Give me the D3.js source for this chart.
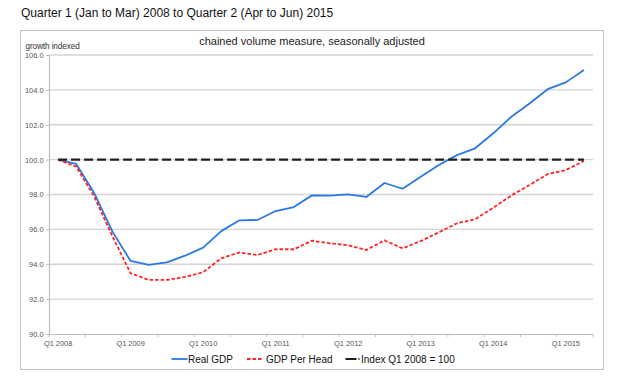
<!DOCTYPE html>
<html>
<head>
<meta charset="utf-8">
<script src="https://cdn.jsdelivr.net/npm/d3@7"></script>
<style>
  html, body { margin: 0; padding: 0; background: #fff; }
  svg { display: block; font-family: "Liberation Sans", Arial, sans-serif; }
</style>
</head>
<body>
<svg id="chart" width="620" height="386"></svg>
<script>
// ---- Data ----
const categories = [
  "Q1 2008","Q2 2008","Q3 2008","Q4 2008",
  "Q1 2009","Q2 2009","Q3 2009","Q4 2009",
  "Q1 2010","Q2 2010","Q3 2010","Q4 2010",
  "Q1 2011","Q2 2011","Q3 2011","Q4 2011",
  "Q1 2012","Q2 2012","Q3 2012","Q4 2012",
  "Q1 2013","Q2 2013","Q3 2013","Q4 2013",
  "Q1 2014","Q2 2014","Q3 2014","Q4 2014",
  "Q1 2015","Q2 2015"
];
const realGDP = [100.0, 99.75, 98.07, 95.87, 94.19, 93.96, 94.11, 94.49, 94.95, 95.90,
                 96.52, 96.54, 97.05, 97.28, 97.95, 97.93, 98.01, 97.86, 98.66, 98.33,
                 99.02, 99.69, 100.26, 100.65, 101.51, 102.46, 103.22, 104.04, 104.43, 105.14];
const gdpPerHead = [100.0, 99.60, 97.87, 95.60, 93.48, 93.10, 93.10, 93.27, 93.54, 94.34,
                    94.68, 94.53, 94.86, 94.86, 95.35, 95.20, 95.09, 94.82, 95.37, 94.91,
                    95.33, 95.83, 96.35, 96.58, 97.24, 97.95, 98.54, 99.17, 99.40, 99.92];
const indexValue = 100;
const xTickLabels = ["Q1 2008","Q1 2009","Q1 2010","Q1 2011","Q1 2012","Q1 2013","Q1 2014","Q1 2015"];
const yTicks = [90, 92, 94, 96, 98, 100, 102, 104, 106];
const seriesNames = ["Real GDP", "GDP Per Head", "Index Q1 2008 = 100"];

const titleText = "Quarter 1 (Jan to Mar) 2008 to Quarter 2 (Apr to Jun) 2015";
const subtitleText = "chained volume measure, seasonally adjusted";
const yAxisTitle = "growth indexed";

// ---- Layout ----
const svg = d3.select("#chart");
const plot = { left: 49, right: 593, top: 55, bottom: 334 };
const FONT = "'Liberation Sans', Arial, sans-serif";

const x = d3.scaleBand().domain(categories).range([plot.left, plot.right]).padding(0);
const cx = c => x(c) + x.bandwidth() / 2;
const y = d3.scaleLinear().domain([90, 106]).range([plot.bottom, plot.top]);

// Title
svg.append("text")
  .attr("x", 21).attr("y", 16.5)
  .attr("font-size", 12).attr("fill", "#111")
  .text(titleText);

// Frame
svg.append("rect")
  .attr("x", 20.5).attr("y", 30.5)
  .attr("width", 583).attr("height", 339)
  .attr("fill", "#fff").attr("stroke", "#c4c4c4").attr("stroke-width", 1);

// Subtitle
svg.append("text")
  .attr("x", 312).attr("y", 44.5)
  .attr("text-anchor", "middle")
  .attr("font-size", 11).attr("fill", "#222")
  .text(subtitleText);

// Y-axis title
svg.append("text")
  .attr("x", 25.5).attr("y", 48.8)
  .attr("font-size", 8.2).attr("fill", "#333")
  .attr("letter-spacing", -0.1)
  .text(yAxisTitle);

// Gridlines
svg.append("g")
  .selectAll("line")
  .data(yTicks.filter(d => d !== 90))
  .join("line")
  .attr("x1", plot.left).attr("x2", plot.right)
  .attr("y1", d => y(d)).attr("y2", d => y(d))
  .attr("stroke", "#d3d3d3").attr("stroke-width", 1.4);

// Y axis
const yAxis = svg.append("g")
  .attr("transform", `translate(${plot.left},0)`)
  .call(d3.axisLeft(y).tickValues(yTicks).tickFormat(d3.format(".1f")).tickSize(3).tickPadding(2.5));
yAxis.select(".domain").attr("stroke", "#bdbdbd").attr("stroke-width", 1.2);
yAxis.selectAll(".tick line").attr("stroke", "#bdbdbd");
yAxis.selectAll(".tick text").attr("font-size", 7.4).attr("fill", "#555").attr("font-family", FONT);

// X axis
const xAxis = svg.append("g")
  .attr("transform", `translate(0,${plot.bottom})`)
  .call(d3.axisBottom(x).tickValues(xTickLabels).tickSize(0).tickPadding(7));
xAxis.select(".domain").attr("stroke", "#bdbdbd").attr("stroke-width", 1.2).attr("d", `M${plot.left},0.5H${plot.right}`);
xAxis.selectAll(".tick text").attr("font-size", 7.4).attr("fill", "#555").attr("font-family", FONT);

// X minor ticks at every second band boundary
const boundaries = categories.filter((c, i) => i % 2 === 0).map(c => x(c)).concat([plot.right]);
svg.append("g")
  .selectAll("line")
  .data(boundaries)
  .join("line")
  .attr("x1", d => d).attr("x2", d => d)
  .attr("y1", plot.bottom).attr("y2", plot.bottom + 3)
  .attr("stroke", "#bdbdbd").attr("stroke-width", 1);

// Lines
const line = d3.line().x((d, i) => cx(categories[i])).y(d => y(d));

svg.append("path")
  .datum(realGDP)
  .attr("d", line)
  .attr("fill", "none")
  .attr("stroke", "#2b78e4").attr("stroke-width", 1.8)
  .attr("stroke-linejoin", "round");

svg.append("path")
  .datum(gdpPerHead)
  .attr("d", line)
  .attr("fill", "none")
  .attr("stroke", "#ff2323").attr("stroke-width", 1.8)
  .attr("stroke-dasharray", "3.5,2");

svg.append("line")
  .attr("x1", cx(categories[0])).attr("x2", cx(categories[categories.length - 1]))
  .attr("y1", y(indexValue)).attr("y2", y(indexValue))
  .attr("stroke", "#1e1e1e").attr("stroke-width", 2.2)
  .attr("stroke-dasharray", "9,4");

// Legend
const legendY = 359;
const legend = svg.append("g").attr("font-size", 10).attr("fill", "#111");
// Real GDP
legend.append("line").attr("x1", 171.5).attr("x2", 187.5).attr("y1", legendY).attr("y2", legendY)
  .attr("stroke", "#2b78e4").attr("stroke-width", 1.8);
legend.append("text").attr("x", 188).attr("y", legendY + 3.6).text(seriesNames[0]);
// GDP Per Head
legend.append("line").attr("x1", 247).attr("x2", 262.5).attr("y1", legendY).attr("y2", legendY)
  .attr("stroke", "#ff2323").attr("stroke-width", 1.8).attr("stroke-dasharray", "3.5,2");
legend.append("text").attr("x", 266).attr("y", legendY + 3.6).text(seriesNames[1]);
// Index
legend.append("line").attr("x1", 345.5).attr("x2", 359.5).attr("y1", legendY).attr("y2", legendY)
  .attr("stroke", "#1e1e1e").attr("stroke-width", 2.2).attr("stroke-dasharray", "11,2");
legend.append("text").attr("x", 361).attr("y", legendY + 3.6).text(seriesNames[2]);
</script>
</body>
</html>
